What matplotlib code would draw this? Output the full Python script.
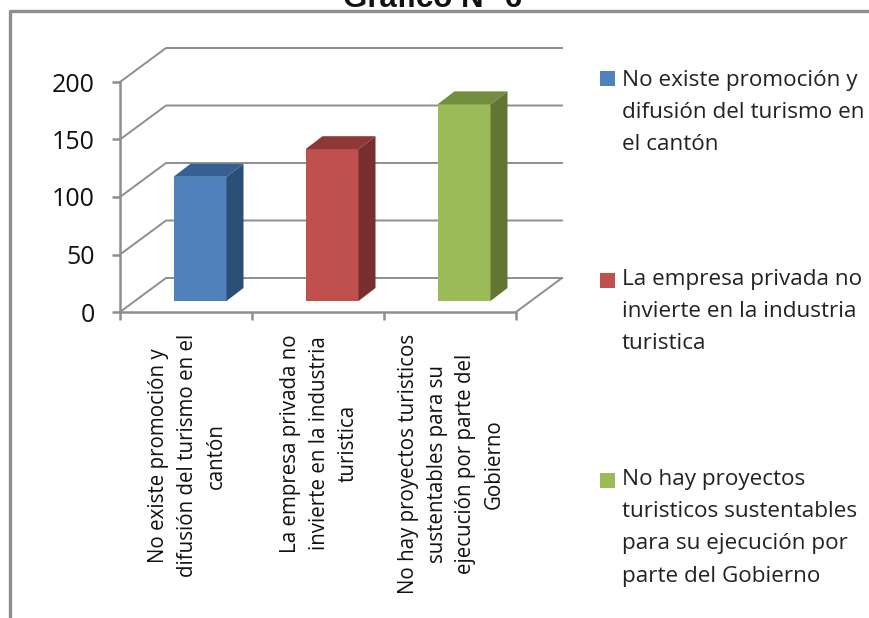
import numpy as np
import matplotlib
matplotlib.use("Agg")
import matplotlib.pyplot as plt
from matplotlib.patches import Polygon, Rectangle

categorias = ["No existe promoción y\ndifusión del turismo en el\ncantón",
              "La empresa privada no\ninvierte en la industria\nturistica",
              "No hay proyectos turisticos\nsustentables para su\nejecución por parte del\nGobierno"]
leyenda = ["No existe promoción y\ndifusión del turismo en\nel cantón",
           "La empresa privada no\ninvierte en la industria\nturistica",
           "No hay proyectos\nturisticos sustentables\npara su ejecución por\nparte del Gobierno"]
valores = [108, 132, 171]
yticks = [0, 50, 100, 150, 200]
frente = ["#4F81BD", "#C0504D", "#9BBB59"]
lado = ["#2C4F78", "#772E2C", "#637534"]
arriba = ["#376092", "#8C3836", "#748E3F"]
gris = "#8E8E8E"

W, H = 869, 618
plt.rcParams['font.family'] = ['Open Sans', 'DejaVu Sans']
fig = plt.figure(figsize=(W/100, H/100), dpi=100)
# los ejes son el plano frontal del grafico
ax = fig.add_axes([120/W, 1-312/H, 396/W, 230/H])
ax.set_xlim(0, 3)
ax.set_ylim(0, 200)
ax.patch.set_visible(False)

px = 3/396      # unidades x por pixel
py = 200/230    # unidades y por pixel
fx, fy = 46*px, 34*py      # fondo de la pared
sx, sy = 14*px, 11*py      # donde empieza la barra
dx, dy = 17*px, 13*py      # profundidad de la barra
ancho = 53*px

# paredes
for v in yticks:
    ax.plot([0, fx, 3+fx], [v, v+fy, v+fy], color=gris, lw=1.4, clip_on=False, zorder=1)
ax.plot([3, 3+fx], [0, fy], color=gris, lw=1.4, clip_on=False, zorder=1)

pos = np.arange(3) + 0.5
ax.bar(pos+sx, valores, ancho, bottom=sy, color=frente, zorder=3)
for i in range(3):
    x0 = pos[i]+sx-ancho/2
    x1 = pos[i]+sx+ancho/2
    b = sy
    t = sy+valores[i]
    ax.add_patch(Polygon([(x1, b), (x1+dx, b+dy), (x1+dx, t+dy), (x1, t)], color=lado[i], lw=0, zorder=3, clip_on=False))
    ax.add_patch(Polygon([(x0, t), (x0+dx, t+dy), (x1+dx, t+dy), (x1, t)], color=arriba[i], lw=0, zorder=3, clip_on=False))

for s in ["top", "right"]:
    ax.spines[s].set_visible(False)
for s in ["left", "bottom"]:
    ax.spines[s].set_color(gris)
    ax.spines[s].set_linewidth(1.8)
ax.set_yticks(yticks)
ax.set_xticks([0, 1, 2, 3])
ax.set_xticklabels([])
ax.tick_params(axis="both", color=gris, width=1.8, length=6)
ax.tick_params(axis="y", labelsize=18, pad=12, labelcolor="#111111")

# etiquetas de categoria giradas
ax.set_xticks(pos + 1.5*px, minor=True)
ax.set_xticklabels(categorias, minor=True, rotation=90, fontsize=14.8, va="top", ha="center",
                   multialignment="center", color="#111111", linespacing=1.47)
ax.tick_params(axis="x", which="minor", length=0, pad=16)

# marco recortado
fig.add_artist(plt.Line2D([10/W, 10/W, 1], [0, 1-11/H, 1-11/H], color=gris, lw=2.4))
fig.text(433/W, 1-7/H, "Gráfico N° 6", family="Liberation Sans", weight="bold", fontsize=22.5,
         ha="center", va="baseline", color="#111111")

# leyenda
ley_y = [79, 281, 481]
texto_y = [70, 269, 469]
for i in range(3):
    fig.add_artist(Rectangle((600/W, 1-(ley_y[i]+7)/H), 15/W, 15/H, transform=fig.transFigure, color=frente[i], lw=0))
    fig.text(622/W, 1-texto_y[i]/H, leyenda[i], fontsize=16.2, va="top", ha="left", color="#222222", linespacing=1.7)

fig.savefig("out.png", dpi=100)
